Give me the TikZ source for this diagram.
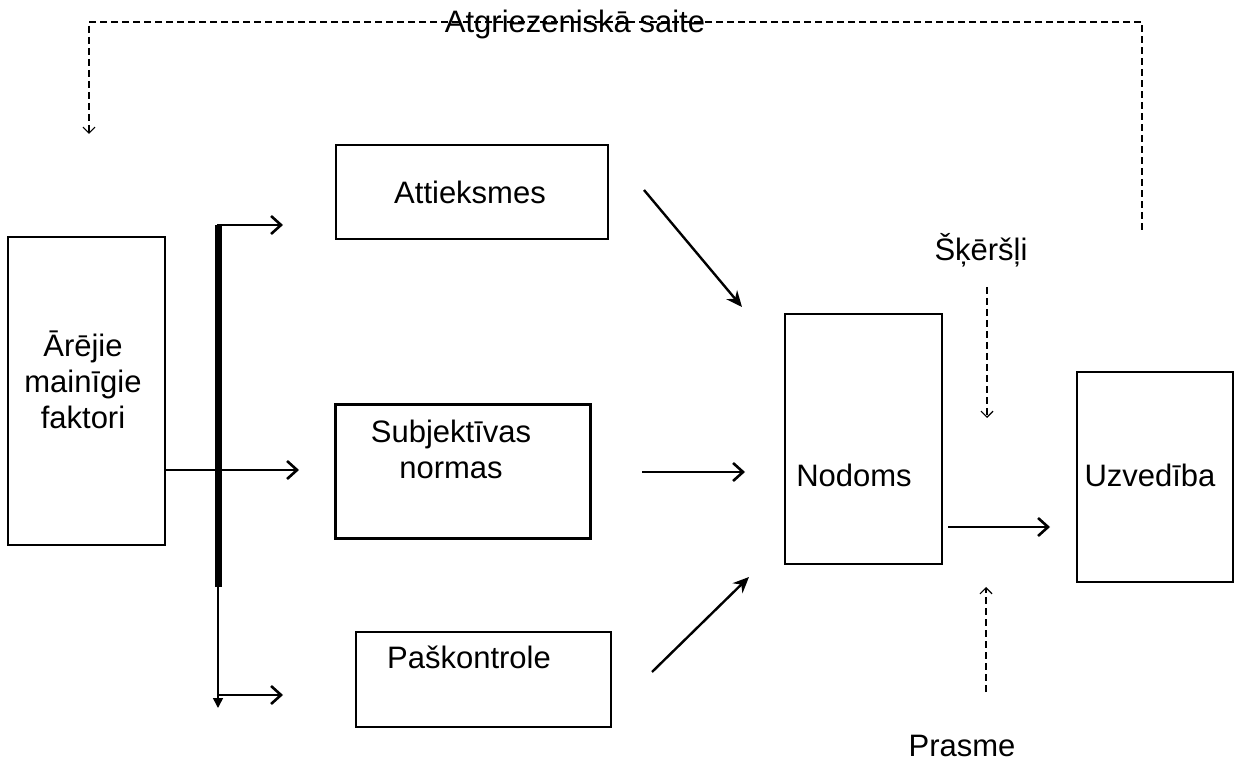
\documentclass[tikz,border=0pt]{standalone}
\usepackage{fontspec}
\setmainfont{Liberation Sans}
\usetikzlibrary{arrows.meta}
\begin{document}
\begin{tikzpicture}[x=0.5pt,y=-0.5pt,
  box/.style={draw, line width=0.8pt, inner sep=0pt},
  lbl/.style={font=\fontsize{15.5}{18}\selectfont, align=center, inner sep=0pt},
  arr/.style={line width=1.4pt, -{Straight Barb[length=5pt,width=9pt,line width=1.3pt]}},
  darr/.style={line width=1.2pt, -{Stealth[length=8pt,width=7pt]}},
  fb/.style={line width=0.6pt, dash pattern=on 3.5pt off 2pt},
  fbarr/.style={fb, -{Straight Barb[length=3pt,width=6pt,line width=0.6pt]}}]
\useasboundingbox (0,0) rectangle (1238,764);

% boxes
\node[box, minimum width=78.5pt, minimum height=154pt] (A) at (86.5,391) {};
\node[box, minimum width=136pt, minimum height=47pt] (B) at (472,192) {};
\node[box, line width=1.5pt, minimum width=127.5pt, minimum height=67pt] (C) at (462.5,472) {};
\node[box, minimum width=127.5pt, minimum height=47.5pt] (D) at (483.5,679.5) {};
\node[box, minimum width=78.5pt, minimum height=125pt] (N) at (863.5,439) {};
\node[box, minimum width=78pt, minimum height=105pt] (U) at (1155,477) {};

% texts
\node[lbl] (tA) at (83,380) {Ārējie\\mainīgie\\faktori};
\node[lbl] (tB) at (470,192) {Attieksmes};
\node[lbl] (tC) at (451,449) {Subjektīvas\\normas};
\node[lbl] (tD) at (469,657) {Paškontrole};
\node[lbl] (tN) at (854,475) {Nodoms};
\node[lbl] (tU) at (1150,475) {Uzvedība};
\node[lbl] (tF) at (575,24) {Atgriezeniskā saite};
\node[lbl] (tS) at (981,250) {Šķēršļi};
\node[lbl] (tP) at (962,746) {Prasme};

% distribution bar
\coordinate (bt) at (218,225);
\coordinate (bb) at (218,587);
\coordinate (be) at (218,708);
\coordinate (bl) at (218,695);
\coordinate (at) at (283,225);
\coordinate (am) at (299,470);
\coordinate (ab) at (283,695);
\draw[line width=3.5pt] (bt) -- (bb);
\draw[line width=0.8pt, -{Triangle[length=5pt,width=5pt]}] (bb) -- (be);
\draw[arr] ([xshift=-0.6pt]bt) -- (at);
\draw[arr] (A.east |- am) -- (am);
\draw[arr] (bl) -- (ab);

% to Nodoms
\coordinate (b1) at (644,190);
\coordinate (n1) at (742,307);
\coordinate (c1) at (642,472);
\coordinate (n2) at (745,472);
\coordinate (d1) at (652,672);
\coordinate (n3) at (749,577);
\draw[darr] (b1) -- (n1);
\draw[arr] (c1) -- (n2);
\draw[darr] (d1) -- (n3);

% Nodoms -> Uzvediba
\coordinate (o1) at (948,527);
\coordinate (u1) at (1050,527);
\draw[arr] (o1) -- (u1);

% feedback
\coordinate (f0) at (1142,230);
\coordinate (f1) at (1142,22);
\coordinate (f2) at (89,22);
\coordinate (f3) at (89,134);
\draw[fbarr] (f0) -- (f1) -- (f2) -- (f3);

% obstacles and skills
\coordinate (s1) at (987,287);
\coordinate (s2) at (987,418);
\coordinate (p1) at (986,692);
\coordinate (p2) at (986,587);
\draw[fbarr] (s1) -- (s2);
\draw[fbarr] (p1) -- (p2);
\end{tikzpicture}
\end{document}
